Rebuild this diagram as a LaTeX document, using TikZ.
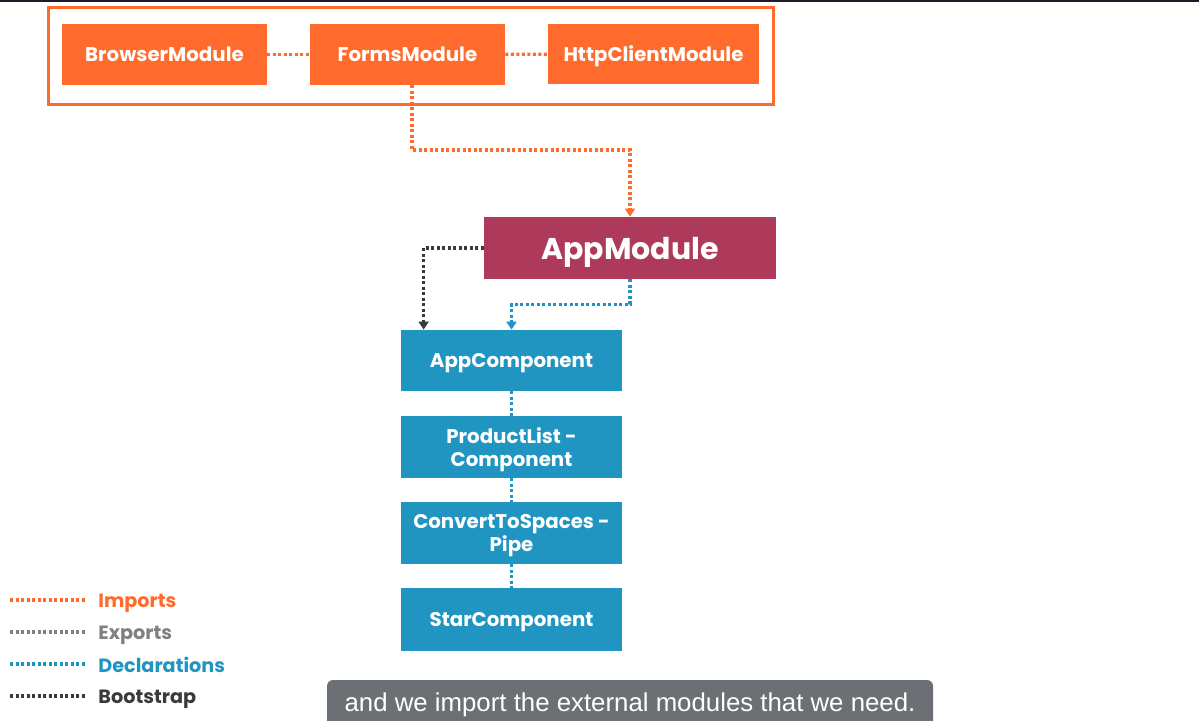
\documentclass[tikz,border=0pt]{standalone}
\usepackage{fontspec}
\setmainfont{Poppins}
\newfontfamily\capfont{Liberation Sans}
\usetikzlibrary{arrows.meta,calc}
\definecolor{ngorange}{HTML}{FF6B2C}
\definecolor{ngred}{HTML}{AD3A5A}
\definecolor{ngblue}{HTML}{2195C2}
\definecolor{nggray}{HTML}{808080}
\definecolor{ngdark}{HTML}{3A3A3A}
\definecolor{capbg}{HTML}{6C6F74}
\definecolor{topline}{HTML}{1C1C2A}
\tikzset{
  box/.style={rectangle, draw=none, text=white, font=\fontsize{9.9}{11.8}\selectfont\bfseries, align=center, inner sep=0pt, text depth=0pt},
  orangebox/.style={box, fill=ngorange},
  bluebox/.style={box, fill=ngblue, minimum width=110.5pt},
  twoline/.style={text depth=-1pt},
  dots/.style={line width=1.6pt, dash pattern=on 1.5pt off 1.25pt},
  tip/.style={-{Triangle[width=5pt,length=4pt]}},
  legtext/.style={anchor=west, font=\fontsize{9.6}{11}\selectfont\bfseries, inner sep=0pt, text depth=0pt}
}
\begin{document}
\begin{tikzpicture}[x=0.5pt,y=-0.5pt]
\useasboundingbox (0,0) rectangle (1199,721);
\clip (0,0) rectangle (1199,721);
\fill[white] (0,0) rectangle (1199,721);
\fill[topline] (0,0) rectangle (1199,2);
% imports frame
\draw[ngorange, line width=1.5pt] (48,8) rectangle (773,105);
\node[orangebox, minimum width=102.5pt, minimum height=30.5pt] (browser) at (164.5,54.5) {BrowserModule};
\node[orangebox, minimum width=97.5pt, minimum height=30.5pt] (forms) at (407.5,54.5) {FormsModule};
\node[orangebox, minimum width=105.5pt, minimum height=30pt] (http) at (653.5,54) {HttpClientModule};
\draw[ngorange, dots] (browser) -- (forms);
\draw[ngorange, dots] (forms) -- (http);
% app module
\node[box, fill=ngred, minimum width=146pt, minimum height=31pt, font=\fontsize{15}{17}\selectfont\bfseries] (appmod) at (630,248) {AppModule};
\draw[ngorange, dots, tip] ($(forms.south)+(4.5,0)$) |- (630,150) -- (appmod.north);
% components
\node[bluebox, minimum height=30.5pt] (appcomp) at (511.5,360.5) {AppComponent};
\node[bluebox, twoline, minimum height=31pt] (plist) at (511.5,447) {ProductList -\\Component};
\node[bluebox, twoline, minimum height=31pt] (conv) at (511.5,533) {ConvertToSpaces -\\Pipe};
\node[bluebox, minimum height=31.5pt] (star) at (511.5,619.5) {StarComponent};
\draw[ngblue, dots] (appcomp) -- (plist);
\draw[ngblue, dots] (plist) -- (conv);
\draw[ngblue, dots] (conv) -- (star);
\coordinate (bootin) at ($(appcomp.north west)+(23,0)$);
\draw[ngdark, dots, tip] (appmod.west) -| (bootin);
\draw[ngblue, dots, tip] (appmod.south) -- ++(0,25) -| (appcomp.north);
% legend
\coordinate (l1a) at (10,600); \coordinate (l1b) at (86,600);
\coordinate (l2a) at (10,632); \coordinate (l2b) at (86,632);
\coordinate (l3a) at (10,664); \coordinate (l3b) at (86,664);
\coordinate (l4a) at (10,696); \coordinate (l4b) at (86,696);
\draw[ngorange, dots] (l1a) -- (l1b);
\draw[nggray, dots] (l2a) -- (l2b);
\draw[ngblue, dots] (l3a) -- (l3b);
\draw[ngdark, dots] (l4a) -- (l4b);
\node[legtext, text=ngorange] (limp) at (98,601) {Imports};
\node[legtext, text=nggray] (lexp) at (98,633) {Exports};
\node[legtext, text=ngblue] (ldec) at (98,665) {Declarations};
\node[legtext, text=ngdark] (lboot) at (98,697) {Bootstrap};
% caption
\fill[capbg, rounded corners=3pt] (327,680) rectangle (933,740);
\node[text=white, font=\capfont\fontsize{12.9}{14}\selectfont, inner sep=0pt] (cap) at (630,705) {and we import the external modules that we need.};
\end{tikzpicture}
\end{document}
